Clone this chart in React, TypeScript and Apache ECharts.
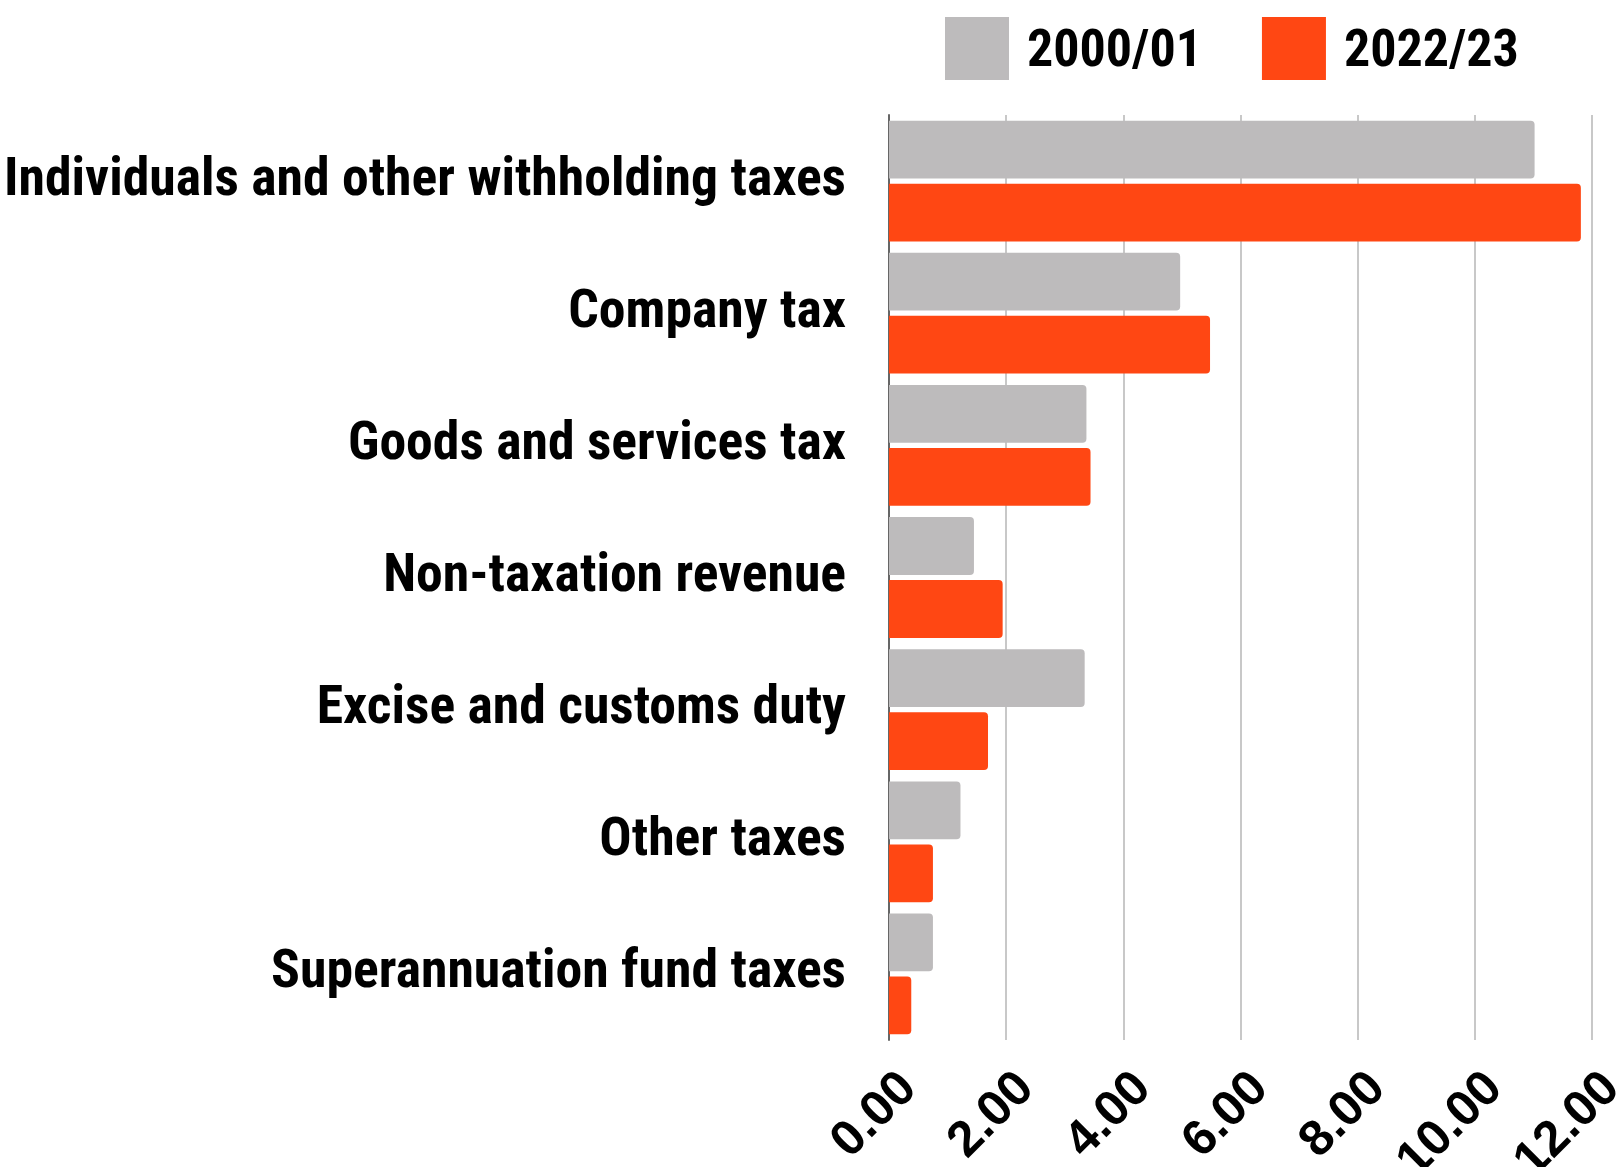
import React, { useEffect, useRef } from "react";
import * as echarts from "echarts";

const categories = [
  "Individuals and other withholding taxes",
  "Company tax",
  "Goods and services tax",
  "Non-taxation revenue",
  "Excise and customs duty",
  "Other taxes",
  "Superannuation fund taxes",
];
const series2000 = [11.02, 4.97, 3.37, 1.45, 3.34, 1.22, 0.75];
const series2022 = [11.81, 5.48, 3.44, 1.94, 1.69, 0.75, 0.38];
const seriesNames = ["2000/01", "2022/23"];
const colors = ["#bdbbbc", "#ff4713"];

const FONT = "'Liberation Sans Narrow', 'Roboto Condensed', 'DejaVu Sans Condensed', 'Liberation Sans', sans-serif";

export default function App() {
  const ref = useRef<HTMLDivElement>(null);
  useEffect(() => {
    if (!ref.current) return;
    const chart = echarts.init(ref.current, undefined, { renderer: "svg" });
    chart.setOption({
      animation: false,
      backgroundColor: "#ffffff",
      legend: {
        top: 12,
        left: 940,
        itemWidth: 64,
        itemHeight: 63,
        itemGap: 60,
        icon: "rect",
        textStyle: { fontFamily: FONT, fontWeight: "bold", fontSize: 52, color: "#000", padding: [0, 0, 0, 13] },
        data: seriesNames,
      },
      grid: { left: 889, right: 26, top: 115, bottom: 127, containLabel: false, outerBoundsMode: "none" },
      xAxis: {
        type: "value",
        min: 0,
        max: 12,
        interval: 2,
        axisLine: { show: false },
        axisTick: { show: false },
        splitLine: { show: true, lineStyle: { color: "#c8c8c8", width: 2 } },
        axisLabel: {
          rotate: 45,
          margin: 21,
          verticalAlign: "top",
          hideOverlap: false,
          fontFamily: "'Liberation Sans', Arial, sans-serif",
          fontWeight: "bold",
          fontSize: 50,
          color: "#000",
          formatter: (v: number) => v.toFixed(2),
        },
      },
      yAxis: {
        type: "category",
        inverse: true,
        data: categories,
        axisLine: { show: true, lineStyle: { color: "#666666", width: 2 } },
        axisTick: { show: false },
        axisLabel: {
          margin: 43,
          fontFamily: FONT,
          fontWeight: "bold",
          fontSize: 53.7,
          color: "#000",
          formatter: (v: string) => "{c|" + v + "}",
          rich: {
            c: {
              fontFamily: FONT,
              fontWeight: "bold",
              fontSize: 53.7,
              color: "#000",
              padding: [0, 0, 10, 0],
            },
          },
        },
      },
      series: [
        {
          name: seriesNames[0],
          type: "bar",
          data: series2000,
          itemStyle: { color: colors[0], borderRadius: [0, 4, 4, 0] },
          barGap: "9%",
          barCategoryGap: "8.6%",
        },
        {
          name: seriesNames[1],
          type: "bar",
          data: series2022,
          itemStyle: { color: colors[1], borderRadius: [0, 4, 4, 0] },
          barGap: "9%",
          barCategoryGap: "8.6%",
        },
      ],
    });
    return () => chart.dispose();
  }, []);
  return <div ref={ref} style={{ width: 1618, height: 1167, position: "absolute", left: 0, top: 0 }} />;
}
